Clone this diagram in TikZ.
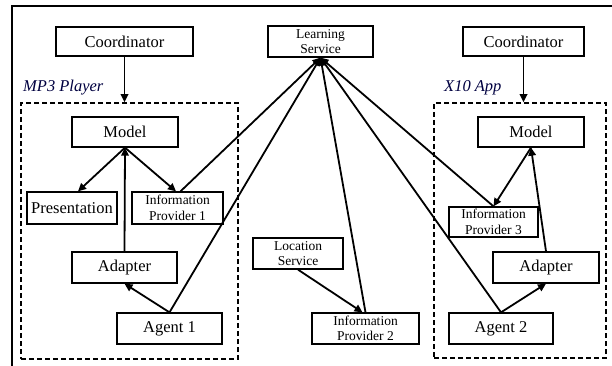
\documentclass[tikz,border=0pt]{standalone}
\usepackage{fontspec}
\setmainfont{Liberation Serif}
\usetikzlibrary{arrows.meta}
\begin{document}
\begin{tikzpicture}[x=1pt,y=-1pt,
  box/.style={draw,line width=1.3pt,rectangle,inner sep=0pt,font=\fontsize{16.5}{18}\selectfont,align=center},
  sbox/.style={draw,line width=1.3pt,rectangle,inner sep=0pt,font=\fontsize{13.5}{15.5}\selectfont,align=center},
  grp/.style={draw,line width=1.6pt,dash pattern=on 5pt off 3pt,rectangle,inner sep=0pt},
  glabel/.style={font=\fontsize{16.5}{18}\selectfont\itshape,text=black!75!blue,anchor=west,inner sep=0pt},
  conn/.style={line width=1.8pt,-{Triangle[length=8pt,width=7.5pt]}}]
\useasboundingbox (0,0) rectangle (612,366);
\coordinate (fTL) at (12,6);
\coordinate (fTR) at (612,6);
\coordinate (fBL) at (12,366);
\draw[line width=1.6pt] (fTR) -- (fTL) -- (fBL);
% groups
\node[grp,minimum width=217pt,minimum height=256pt] (mp3) at (129.5,231) {};
\node[grp,minimum width=172pt,minimum height=255pt] (x10) at (520,230.5) {};
\node[glabel] (mp3l) at (23,88) {MP3 Player};
\node[glabel] (x10l) at (444,88) {X10 App};
% boxes
\node[box,minimum width=137pt,minimum height=29pt] (coordL) at (124.5,41.5) {Coordinator};
\node[sbox,minimum width=105pt,minimum height=31pt] (LS) at (320.5,41.5) {Learning\\Service};
\node[box,minimum width=121pt,minimum height=29pt] (coordR) at (523.5,41.5) {Coordinator};
\node[box,minimum width=106pt,minimum height=30pt] (modelL) at (125,132) {Model};
\node[box,minimum width=90pt,minimum height=32pt] (pres) at (72,208) {Presentation};
\node[sbox,minimum width=91pt,minimum height=32pt] (ip1) at (177.5,208) {Information\\Provider 1};
\node[box,minimum width=105pt,minimum height=31pt] (adL) at (124.5,267.5) {Adapter};
\node[box,minimum width=105pt,minimum height=31pt] (ag1) at (169.5,328.5) {Agent 1};
\node[sbox,minimum width=90pt,minimum height=31pt] (loc) at (298,253.5) {Location\\Service};
\node[sbox,minimum width=107pt,minimum height=31pt] (ip2) at (365.5,328.5) {Information\\Provider 2};
\node[box,minimum width=106pt,minimum height=30pt] (modelR) at (531,132) {Model};
\node[sbox,minimum width=89pt,minimum height=30pt] (ip3) at (493.5,222) {Information\\Provider 3};
\node[box,minimum width=106pt,minimum height=31pt] (adR) at (546,267.5) {Adapter};
\node[box,minimum width=104pt,minimum height=31pt] (ag2) at (501,328.5) {Agent 2};
% connectors
\draw[conn] (coordL.south) -- (coordL.south |- mp3.north);
\draw[conn] (coordR.south) -- (coordR.south |- x10.north);
\draw[conn] (modelL.south) -- ([xshift=6pt]pres.north);
\draw[conn] (modelL.south) -- ([xshift=-1.5pt]ip1.north);
\draw[conn] (adL.north) -- (modelL.south);
\draw[conn] (ag1.north) -- (adL.south);
\draw[conn] (ag1.north) -- (LS.south);
\draw[conn] ([xshift=3pt]ip1.north) -- (LS.south);
\draw[conn] (ip2.north) -- (LS.south);
\draw[conn] (loc.south) -- ([xshift=-3pt]ip2.north);
\draw[conn] (ag2.north) -- (LS.south);
\draw[conn] (ag2.north) -- (adR.south);
\draw[conn] (ip3.north) -- (LS.south);
\draw[conn] (modelR.south) -- (ip3.north);
\draw[conn] (adR.north) -- (modelR.south);
\end{tikzpicture}
\end{document}
